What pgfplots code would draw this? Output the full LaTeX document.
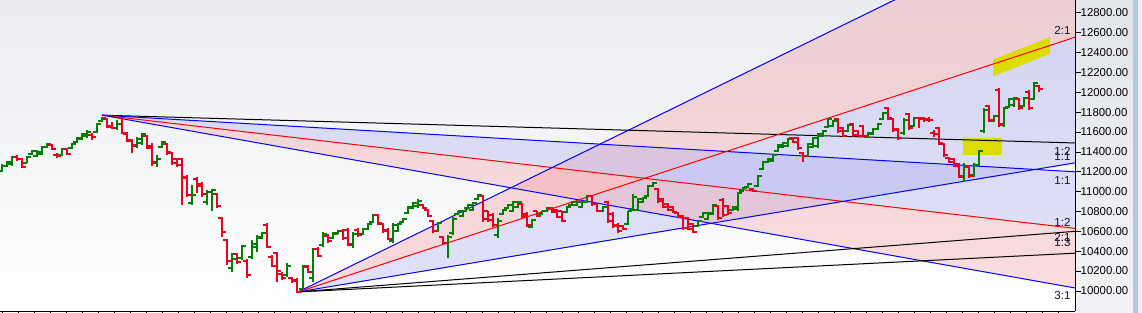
\documentclass[border=0pt]{standalone}
\usepackage{fontspec}
\setmainfont{Liberation Sans}
\usepackage{pgfplots}
\usepackage{pgfplotstable}
\pgfplotsset{compat=1.18}
\pgfdeclarelayer{bg}
\pgfsetlayers{bg,main}
\definecolor{upc}{RGB}{0,128,0}
\definecolor{dnc}{RGB}{235,0,30}
\definecolor{pinkf}{RGB}{245,145,150}
\definecolor{lavf}{RGB}{160,160,240}
\definecolor{hl}{RGB}{220,220,0}
\definecolor{lbl}{RGB}{20,20,50}
\definecolor{bgtop}{RGB}{234,236,240}
\definecolor{pantop}{RGB}{226,229,234}
\definecolor{panbot}{RGB}{242,243,246}
\definecolor{strip}{RGB}{178,200,228}
\definecolor{edge}{RGB}{236,238,242}
\pgfdeclareplotmark{ohlcL}{\pgfpathmoveto{\pgfqpoint{-2pt}{0pt}}\pgfpathlineto{\pgfqpoint{0pt}{0pt}}\pgfusepathqstroke}
\pgfdeclareplotmark{ohlcR}{\pgfpathmoveto{\pgfqpoint{0pt}{0pt}}\pgfpathlineto{\pgfqpoint{2pt}{0pt}}\pgfusepathqstroke}

\pgfplotstableread{
x o h l c
2 11210 11280 11200 11260
7 11260 11310 11250 11300
12 11280 11360 11260 11350
27 11290 11360 11290 11350
32 11380 11420 11370 11410
37 11360 11420 11350 11400
42 11380 11460 11370 11450
47 11450 11490 11440 11480
62 11370 11440 11360 11430
72 11440 11490 11430 11480
77 11500 11550 11490 11540
82 11530 11590 11520 11580
87 11560 11620 11540 11600
97 11600 11690 11590 11680
102 11710 11750 11700 11740
117 11640 11720 11620 11680
137 11460 11550 11440 11530
142 11490 11590 11470 11580
157 11290 11370 11250 11330
162 11450 11510 11440 11500
192 10890 11070 10870 10970
207 10900 11020 10870 11000
212 11000 11030 10810 11020
232 10230 10380 10190 10320
242 10330 10460 10310 10450
252 10340 10510 10320 10470
257 10440 10560 10390 10540
262 10530 10590 10520 10580
287 10160 10280 10140 10250
303 10020 10260 10010 10240
313 10130 10430 10090 10420
323 10460 10590 10440 10570
333 10530 10590 10520 10580
338 10575 10610 10570 10600
353 10460 10590 10430 10570
363 10570 10630 10560 10620
368 10620 10680 10610 10670
373 10690 10770 10680 10760
393 10500 10680 10480 10660
398 10600 10680 10590 10670
403 10690 10730 10680 10720
408 10780 10860 10770 10850
413 10840 10900 10830 10890
418 10860 10930 10840 10910
438 10600 10690 10590 10680
448 10480 10560 10330 10540
453 10580 10740 10560 10720
458 10770 10810 10760 10800
463 10750 10820 10740 10810
468 10840 10880 10830 10870
473 10820 10900 10810 10890
478 10930 10980 10920 10970
498 10560 10730 10530 10700
503 10770 10830 10760 10820
508 10840 10880 10830 10870
513 10800 10910 10790 10900
518 10850 10910 10840 10900
532 10640 10720 10630 10710
542 10770 10810 10760 10800
547 10800 10850 10790 10840
567 10790 10860 10780 10850
572 10870 10910 10860 10900
577 10870 10910 10860 10900
582 10850 10910 10840 10900
587 10900 10970 10890 10960
603 10800 10860 10790 10850
628 10670 10810 10660 10800
633 10830 10980 10810 10950
638 10820 10940 10810 10930
643 10900 10950 10890 10940
648 10960 11070 10950 11060
653 11060 11100 11050 11090
698 10650 10710 10640 10700
703 10740 10790 10730 10780
708 10720 10790 10710 10780
713 10770 10880 10760 10870
733 10820 10860 10810 10850
738 10830 11000 10810 10990
743 11010 11050 11000 11040
748 11050 11090 11040 11080
758 11060 11170 11050 11160
763 11230 11310 11220 11300
768 11300 11340 11290 11330
773 11310 11380 11300 11370
778 11410 11480 11400 11470
783 11450 11500 11440 11490
788 11460 11540 11450 11530
808 11360 11490 11350 11480
813 11450 11550 11440 11540
818 11460 11590 11440 11580
823 11560 11620 11550 11610
828 11650 11740 11640 11730
833 11660 11720 11650 11710
848 11610 11680 11600 11670
868 11550 11600 11540 11590
873 11580 11640 11570 11630
878 11630 11690 11620 11680
883 11730 11800 11720 11790
904 11590 11740 11570 11720
914 11660 11750 11650 11740
964 11150 11290 11100 11250
974 11170 11290 11150 11270
979 11270 11420 11250 11410
984 11610 11840 11590 11820
994 11710 11770 11700 11760
1004 11670 11850 11650 11840
1009 11850 11940 11840 11930
1014 11870 11950 11850 11940
1024 11860 11950 11850 11940
1034 11930 12100 11920 12090
}\up

\pgfplotstableread{
x o h l c
17 11350 11370 11310 11330
22 11330 11340 11240 11250
52 11470 11480 11420 11430
57 11370 11390 11340 11360
67 11430 11440 11370 11380
92 11570 11590 11520 11550
107 11730 11740 11640 11650
112 11660 11700 11630 11640
122 11740 11750 11580 11590
127 11580 11600 11500 11510
132 11520 11530 11390 11470
147 11560 11570 11430 11440
152 11460 11490 11260 11300
167 11480 11490 11370 11400
172 11390 11400 11270 11290
177 11330 11340 11250 11270
182 11330 11340 10870 11140
187 11150 11170 10950 10970
197 11130 11150 10990 11060
202 11080 11100 10950 10980
217 10980 10990 10840 10860
222 10730 10740 10540 10590
227 10510 10520 10260 10300
237 10370 10380 10270 10290
247 10300 10320 10130 10160
267 10660 10680 10430 10440
272 10340 10360 10240 10250
277 10380 10390 10090 10200
282 10170 10190 10110 10130
292 10130 10140 10080 10100
297 10110 10130 9980 9990
308 10250 10260 10180 10190
318 10420 10440 10340 10350
328 10550 10570 10480 10500
343 10600 10620 10510 10530
348 10610 10630 10450 10470
358 10610 10630 10540 10560
378 10760 10770 10660 10680
383 10670 10680 10580 10600
388 10610 10630 10510 10520
423 10870 10880 10830 10840
428 10820 10830 10740 10750
433 10700 10710 10580 10600
443 10540 10550 10460 10480
483 10960 10970 10690 10720
488 10800 10810 10690 10710
493 10760 10780 10640 10660
522 10880 10890 10730 10750
527 10770 10790 10640 10660
537 10800 10810 10740 10750
552 10840 10850 10780 10790
557 10820 10830 10730 10740
562 10800 10810 10690 10700
592 10960 10970 10860 10880
597 10880 10890 10790 10800
608 10900 10910 10680 10700
613 10770 10790 10630 10650
618 10660 10680 10580 10600
623 10650 10660 10610 10620
658 11030 11040 10890 10910
663 10930 10940 10840 10850
668 10880 10890 10810 10820
673 10850 10860 10780 10790
678 10780 10790 10730 10740
683 10750 10760 10610 10630
688 10730 10740 10610 10620
693 10670 10680 10580 10590
718 10860 10870 10710 10730
723 10920 10940 10740 10760
728 10860 10870 10760 10780
753 11030 11040 11000 11010
793 11540 11550 11490 11500
798 11540 11550 11420 11440
803 11390 11400 11300 11360
838 11730 11740 11590 11610
843 11640 11650 11550 11560
853 11680 11690 11550 11570
858 11610 11620 11550 11560
863 11660 11670 11550 11560
888 11840 11850 11720 11740
893 11730 11740 11600 11620
898 11630 11640 11520 11540
909 11780 11790 11620 11640
919 11740 11750 11640 11730
924 11740 11750 11700 11720
929 11730 11750 11700 11720
934 11590 11620 11550 11580
939 11640 11650 11470 11490
944 11480 11490 11350 11370
949 11340 11350 11290 11300
954 11330 11340 11250 11260
959 11280 11290 11140 11160
969 11260 11270 11140 11160
989 11860 11870 11700 11720
999 12020 12040 11650 11680
1019 11930 11940 11820 11840
1029 12000 12020 11820 11840
1039 12060 12070 12000 12030
}\down

\begin{document}
\begin{tikzpicture}
\begin{axis}[
  scale only axis, width=537.5pt, height=155.75pt,
  xmin=0, xmax=1075, ymin=9793, ymax=12930,
  axis x line*=bottom, axis y line*=right,
  clip mode=individual,
  axis background/.style={top color=bgtop, bottom color=white},
  ytick={10000,10200,...,12800},
  scaled y ticks=false,
  xtick={2,18,...,1058}, xticklabels={},
  tick align=outside, major tick length=2.8pt,
  every tick/.style={black, line width=0.4pt},
  axis line style={black, line width=0.5pt},
  yticklabel style={font=\fontsize{5.7}{6}\selectfont, text=black, xshift=-3.5pt},
  /pgf/number format/fixed,
  /pgf/number format/fixed zerofill,
  /pgf/number format/precision=2,
  /pgf/number format/1000 sep={},
  /pgf/number format/assume math mode=true,
]
% fan fills
\addplot[fill=pinkf, fill opacity=0.32, draw=none, forget plot] coordinates {(298,9990) (1075,13820) (1075,12555)} -- cycle;
\addplot[fill=lavf, fill opacity=0.3, draw=none, forget plot] coordinates {(298,9990) (1075,12555) (1075,11290)} -- cycle;
\addplot[fill=lavf, fill opacity=0.3, draw=none, forget plot] coordinates {(102,11770) (1075,11200) (1075,10630)} -- cycle;
\addplot[fill=pinkf, fill opacity=0.3, draw=none, forget plot] coordinates {(102,11770) (1075,10630) (1075,10030)} -- cycle;
% highlights
\addplot[fill=hl, draw=none, forget plot] coordinates {(963,11540) (1002,11540) (1002,11370) (963,11370)} -- cycle;
\addplot[fill=hl, draw=none, forget plot] coordinates {(993,12160) (993,12330) (1050,12555) (1050,12390)} -- cycle;
% fan lines from the high
\addplot[black, line width=0.5pt, forget plot] coordinates {(102,11770) (1075,11490)};
\addplot[blue, line width=0.5pt, forget plot] coordinates {(102,11770) (1075,11200)};
\addplot[red, line width=0.5pt, forget plot] coordinates {(102,11770) (1075,10630)};
\addplot[blue, line width=0.5pt, forget plot] coordinates {(102,11770) (1075,10030)};
% fan lines from the low
\addplot[blue, line width=0.5pt, forget plot] coordinates {(298,9990) (1075,13820)};
\addplot[red, line width=0.5pt, forget plot] coordinates {(298,9990) (1075,12555)};
\addplot[blue, line width=0.5pt, forget plot] coordinates {(298,9990) (1075,11290)};
\addplot[black, line width=0.5pt, forget plot] coordinates {(298,9990) (1075,10600)};
\addplot[black, line width=0.5pt, forget plot] coordinates {(298,9990) (1075,10380)};
% OHLC bars
\addplot[draw=none, forget plot, error bars/.cd, y dir=plus, y explicit, error mark=none,
  error bar style={draw=upc, line width=1pt}] table[x=x, y=l, y error expr=\thisrow{h}-\thisrow{l}] {\up};
\addplot[only marks, mark=ohlcL, mark options={draw=upc, line width=1pt}, forget plot] table[x=x, y=o] {\up};
\addplot[only marks, mark=ohlcR, mark options={draw=upc, line width=1pt}, forget plot] table[x=x, y=c] {\up};
\addplot[draw=none, forget plot, error bars/.cd, y dir=plus, y explicit, error mark=none,
  error bar style={draw=dnc, line width=1pt}] table[x=x, y=l, y error expr=\thisrow{h}-\thisrow{l}] {\down};
\addplot[only marks, mark=ohlcL, mark options={draw=dnc, line width=1pt}, forget plot] table[x=x, y=o] {\down};
\addplot[only marks, mark=ohlcR, mark options={draw=dnc, line width=1pt}, forget plot] table[x=x, y=c] {\down};
% ratio labels
\tikzset{rl/.style={anchor=east, font=\fontsize{5.8}{6}\selectfont, text=lbl, inner sep=0pt}}
\node[rl] at (axis cs:1071,12628) {2:1};
\node[rl] at (axis cs:1071,11409) {1:2};
\node[rl] at (axis cs:1071,11349) {1:1};
\node[rl] at (axis cs:1071,11117) {1:1};
\node[rl] at (axis cs:1071,10694) {1:2};
\node[rl] at (axis cs:1071,10543) {2:1};
\node[rl] at (axis cs:1071,10483) {1:3};
\node[rl] at (axis cs:1071,9949) {3:1};
\end{axis}
\begin{pgfonlayer}{bg}
\shade[top color=pantop, bottom color=panbot]
  ([yshift=-2pt]current axis.south east) rectangle ([xshift=29pt]current axis.north east);
\fill[strip] ([xshift=29pt,yshift=-2pt]current axis.south east) rectangle ([xshift=31.5pt]current axis.north east);
\fill[edge] ([xshift=31.5pt,yshift=-2pt]current axis.south east) rectangle ([xshift=34pt]current axis.north east);
\end{pgfonlayer}
\pgfresetboundingbox
\path[use as bounding box] ([yshift=-0.75pt]current axis.south west) rectangle ([xshift=33.5pt]current axis.north east);
\end{tikzpicture}
\end{document}
